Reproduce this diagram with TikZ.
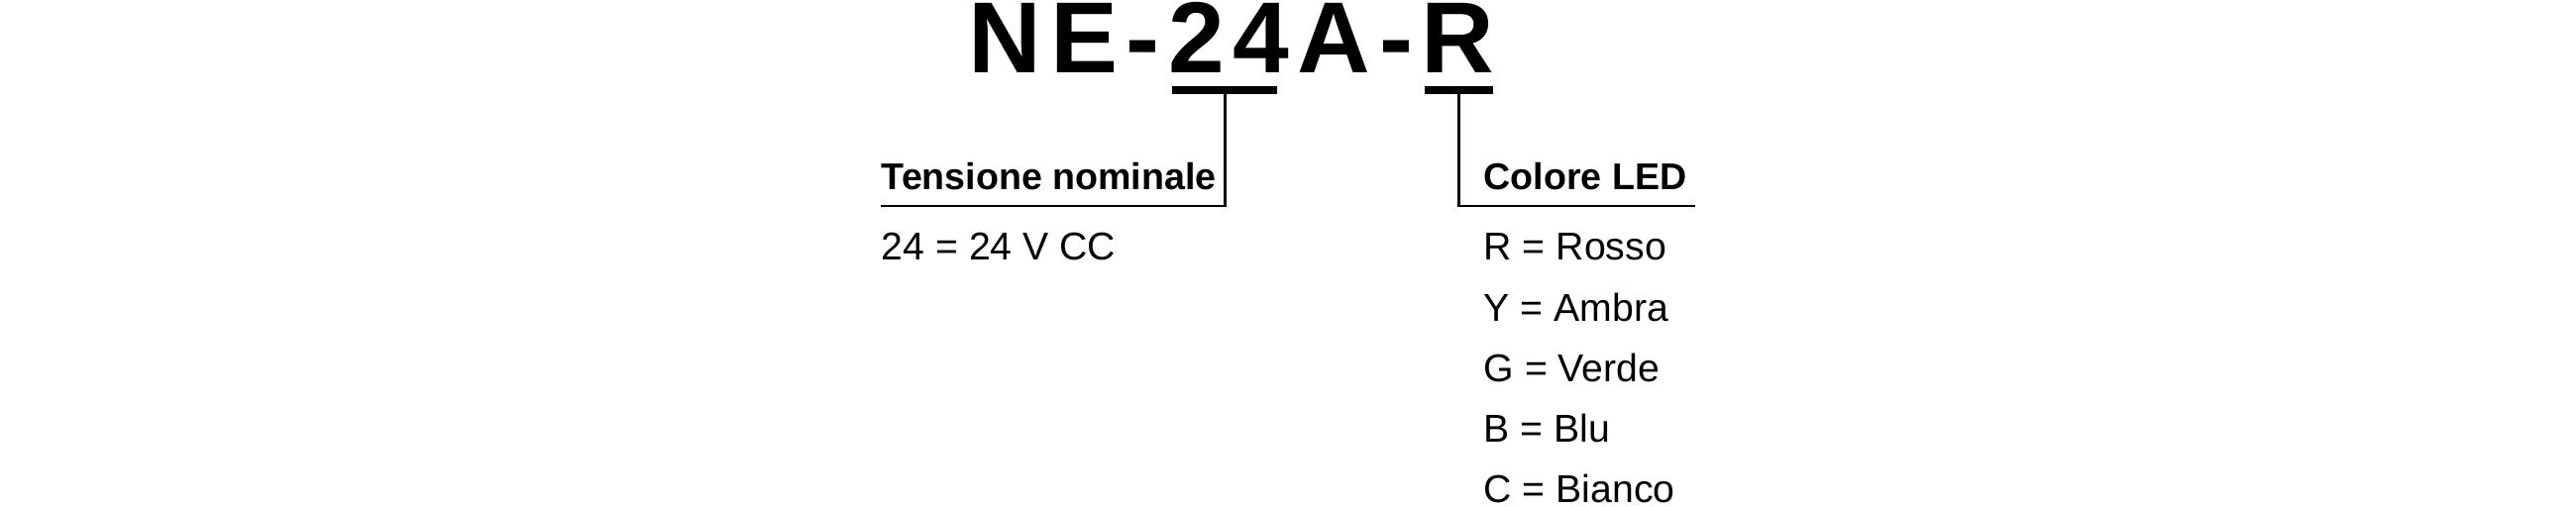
\documentclass[tikz,border=0pt]{standalone}
\usepackage{fontspec}
\setmainfont{Liberation Sans}
\usetikzlibrary{positioning,calc}
\tikzstyle{ttl}=[inner sep=0pt, font=\fontsize{25.5pt}{30pt}\selectfont\bfseries]
\tikzstyle{lbl}=[inner sep=0pt, font=\fontsize{9.4pt}{11pt}\selectfont\bfseries]
\tikzstyle{val}=[inner sep=0pt, font=\fontsize{9.8pt}{11pt}\selectfont]
\tikzstyle{bar}=[line width=2pt]
\tikzstyle{leader}=[line width=0.6pt]

\begin{document}
\begin{tikzpicture}[x=0.25pt,y=-0.25pt]
\useasboundingbox (0,0) rectangle (2600,512);

% code letters
\node[ttl, anchor=base west] (t1) at (977,74) {N};
\foreach \l [count=\i from 2, remember=\i as \j (initially 1)] in {E,-,2,4,A,-,R}
  \node[ttl, anchor=base west] (t\i) at ([shift={(7,0)}]t\j.base east) {\l};

\coordinate (u24w) at ([shift={(5,17)}]t4.base west);
\coordinate (u24e) at ([shift={(-13,17)}]t5.base east);
\coordinate (uRw) at ([shift={(4,17)}]t8.base west);
\coordinate (uRe) at ([shift={(-2,17)}]t8.base east);
\coordinate (u24) at ($(u24w)!0.5!(u24e)$);
\coordinate (uR) at ($(uRw)!0.5!(uRe)$);

\node[lbl, anchor=base west] (tens) at (889,192) {Tensione nominale};
\node[lbl, anchor=base west] (led) at (1497,192) {Colore LED};
\coordinate (tensl) at ([shift={(0,16)}]tens.base west);
\coordinate (ledl) at ([shift={(8,16)}]led.base east);

\draw[leader] (u24) |- (tensl);
\draw[leader] (uR) |- (ledl);
\draw[bar] (u24w) -- (u24e);
\draw[bar] (uRw) -- (uRe);

\node[val, anchor=base west] (v24) at ([shift={(0,71)}]tens.base west) {24 = 24 V CC};
\foreach \k/\w [count=\i] in {R/Rosso,Y/Ambra,G/Verde,B/Blu,C/Bianco}
  \node[val, anchor=base west] (col\k) at ([shift={(0,{71+61.2*(\i-1)})}]led.base west) {\k{} = \w};
\end{tikzpicture}
\end{document}
